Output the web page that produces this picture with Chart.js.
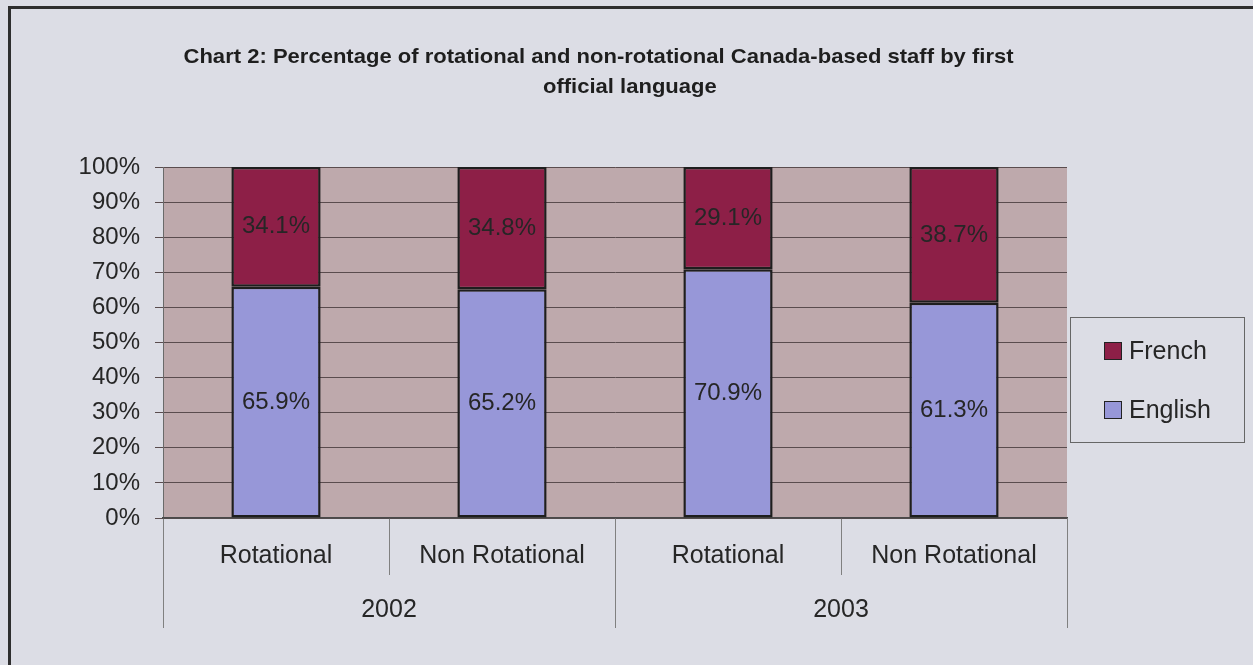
<!DOCTYPE html>
<html>
<head>
<meta charset="utf-8">
<script src="https://cdn.jsdelivr.net/npm/chart.js@4.4.1/dist/chart.umd.min.js"></script>
<style>
  html, body { margin: 0; padding: 0; }
  body { width: 1253px; height: 665px; background: #dcdde5; position: relative; overflow: hidden; font-family: "Liberation Sans", Arial, sans-serif; }
  #frame { position: absolute; left: 8px; top: 6px; width: 1250px; height: 660px; border-left: 3px solid #2e2e2e; border-top: 3px solid #2e2e2e; border-right: 1px solid #b8b8c0; border-bottom: 1px solid #b8b8c0; box-sizing: border-box; }
  canvas { position: absolute; left: 0; top: 0; }
  .title { position: absolute; font-family: "Liberation Sans", Arial, sans-serif; font-weight: bold; font-size: 21px; line-height: 24px; color: #1e1e1e; white-space: nowrap; transform-origin: center center; }
  #legend { position: absolute; left: 1070px; top: 317px; width: 175px; height: 126px; border: 1px solid #666; box-sizing: border-box; }
  .item { position: absolute; left: 33px; font-size: 25px; color: #262626; line-height: 25px; }
  .item span.box { position: absolute; left: 0; top: 3px; width: 16px; height: 16px; border: 1.5px solid #222; }
  .item span.txt { position: absolute; left: 25px; top: -1px; white-space: nowrap; }
</style>
</head>
<body>
<div id="frame"></div>
<canvas id="chart" width="1253" height="665"></canvas>
<div class="title" id="t1">Chart 2: Percentage of rotational and non-rotational Canada-based staff by first</div>
<div class="title" id="t2">official language</div>
<div id="legend"></div>
<script>
  const categories = ['Rotational', 'Non Rotational', 'Rotational', 'Non Rotational'];
  const years = ['2002', '2003'];
  const englishValues = [65.9, 65.2, 70.9, 61.3];
  const frenchValues = [34.1, 34.8, 29.1, 38.7];
  const yTicks = [0, 10, 20, 30, 40, 50, 60, 70, 80, 90, 100];

  const englishColor = '#9797d8';
  const frenchColor = '#8d1f47';
  const font = '"Liberation Sans", Arial, sans-serif';

  // title lines, centred like the original (second line sits a bit right)
  function placeTitle(id, centerX, top) {
    const el = document.getElementById(id);
    el.style.top = top + 'px';
    el.style.left = (centerX - el.offsetWidth / 2) + 'px';
    return el;
  }
  const t1 = placeTitle('t1', 598, 44);
  const s = 830 / t1.offsetWidth;
  t1.style.transform = `scaleX(${s})`;
  const t2 = placeTitle('t2', 630, 74);
  t2.style.transform = `scaleX(${s})`;

  const plotBg = {
    id: 'plotBg',
    beforeDraw(chart) {
      const { ctx, chartArea: a } = chart;
      ctx.save();
      ctx.fillStyle = '#bea9ac';
      ctx.fillRect(a.left, a.top, a.right - a.left, a.bottom - a.top);
      ctx.restore();
    }
  };

  const valueLabels = {
    id: 'valueLabels',
    afterDatasetsDraw(chart) {
      const ctx = chart.ctx;
      ctx.save();
      ctx.font = '24px ' + font;
      ctx.fillStyle = '#262626';
      ctx.textAlign = 'center';
      ctx.textBaseline = 'middle';
      chart.data.datasets.forEach((ds, i) => {
        chart.getDatasetMeta(i).data.forEach((bar, j) => {
          ctx.fillText(ds.data[j].toFixed(1) + '%', bar.x, (bar.y + bar.base) / 2);
        });
      });
      ctx.restore();
    }
  };

  const chart = new Chart(document.getElementById('chart').getContext('2d'), {
    type: 'bar',
    data: {
      labels: categories,
      datasets: [
        { label: 'English', data: englishValues, backgroundColor: englishColor, borderColor: '#1e1e1e', borderWidth: 2.5, borderSkipped: false },
        { label: 'French', data: frenchValues, backgroundColor: frenchColor, borderColor: '#1e1e1e', borderWidth: 2.5, borderSkipped: false }
      ]
    },
    options: {
      responsive: false,
      animation: false,
      layout: { padding: { left: 0, top: 167, right: 186, bottom: 0 } },
      datasets: { bar: { categoryPercentage: 1, barPercentage: 0.395 } },
      plugins: { legend: { display: false }, tooltip: { enabled: false }, title: { display: false } },
      scales: {
        y: {
          stacked: true, min: 0, max: 100,
          afterBuildTicks: (sc) => { sc.ticks = yTicks.map(v => ({ value: v })); },
          afterFit: (sc) => { sc.width = 163; },
          ticks: { callback: v => v + '%', padding: 15, color: '#262626', font: { size: 24, family: font } },
          grid: { color: '#5a4c4e', lineWidth: 1, tickLength: 8 },
          border: { color: '#6a6a6a', width: 1 }
        },
        x: {
          stacked: true,
          afterFit: (sc) => { sc.height = 57; },
          ticks: { autoSkip: false, maxRotation: 0, padding: -34, color: '#262626', font: { size: 25, family: font } },
          grid: { offset: true, drawOnChartArea: false, tickLength: 57, color: '#808080' },
          border: { color: '#4a4a4a', width: 1.5 }
        },
        x2: {
          type: 'category', position: 'bottom', labels: years, offset: true,
          afterFit: (sc) => { sc.height = 90; },
          ticks: { autoSkip: false, maxRotation: 0, padding: -33, color: '#262626', font: { size: 25, family: font } },
          grid: { offset: true, drawOnChartArea: false, tickLength: 53, color: '#808080' },
          border: { display: false }
        }
      }
    },
    plugins: [plotBg, valueLabels]
  });

  // legend, French listed first like the original
  const legend = document.getElementById('legend');
  [...chart.data.datasets].reverse().forEach((ds, i) => {
    const item = document.createElement('div');
    item.className = 'item';
    item.style.top = (21 + i * 59) + 'px';
    item.innerHTML = `<span class="box" style="background:${ds.backgroundColor}"></span><span class="txt">${ds.label}</span>`;
    legend.appendChild(item);
  });
</script>
</body>
</html>
